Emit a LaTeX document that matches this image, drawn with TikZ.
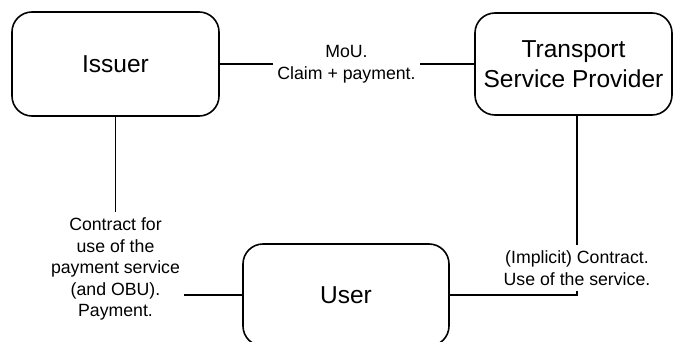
\documentclass[tikz,border=0pt]{standalone}
\usepackage{fontspec}
\setmainfont{Liberation Sans}
\begin{document}
\begin{tikzpicture}[x=1pt,y=-1pt,
  box/.style={draw, line width=1.6pt, rounded corners=20pt, align=center, inner sep=0pt,
    font=\fontsize{24.5}{30}\selectfont},
  lbl/.style={align=center, inner xsep=4pt, inner ysep=6pt,
    font=\fontsize{17.7}{21.5}\selectfont},
  conn/.style={line width=1.1pt}]
\useasboundingbox (0,0) rectangle (673,342);
\clip (0,0) rectangle (673,342);
\node[box, minimum width=207pt, minimum height=104pt] (issuer) at (115.5,64) {Issuer};
\node[box, minimum width=197pt, minimum height=102pt] (tsp) at (573.5,64) {Transport\\Service Provider};
\node[box, minimum width=206pt, minimum height=102pt] (user) at (346,295) {User};
\node[lbl] (mou) at (346.5,64) {MoU.\\Claim + payment.};
\node[lbl] (contract) at (115.5,269) {Contract for\\use of the\\payment service\\(and OBU).\\Payment.};
\node[lbl] (implicit) at (577,268) {(Implicit) Contract.\\Use of the service.};
\draw[conn] (issuer.east) -- (mou.west);
\draw[conn] (mou.east) -- (tsp.west);
\draw[conn] (issuer.south) -- (contract.north);
\draw[conn] (contract.east |- user.west) -- (user.west);
\draw[conn] ([xshift=3.5pt]tsp.south) -- (implicit.north);
\draw[conn] (user.east) -| (implicit.south);
\end{tikzpicture}
\end{document}
